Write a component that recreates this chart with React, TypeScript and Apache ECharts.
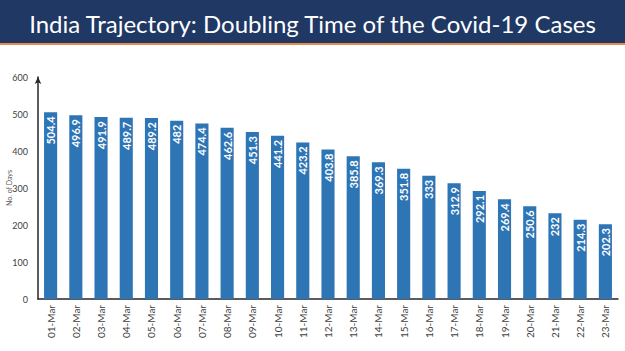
import React, { useEffect, useRef } from "react";
import * as echarts from "echarts";

const categories = [
  "01-Mar", "02-Mar", "03-Mar", "04-Mar", "05-Mar", "06-Mar", "07-Mar", "08-Mar",
  "09-Mar", "10-Mar", "11-Mar", "12-Mar", "13-Mar", "14-Mar", "15-Mar", "16-Mar",
  "17-Mar", "18-Mar", "19-Mar", "20-Mar", "21-Mar", "22-Mar", "23-Mar",
];
const doublingDays = [
  504.4, 496.9, 491.9, 489.7, 489.2, 482, 474.4, 462.6, 451.3, 441.2, 423.2, 403.8,
  385.8, 369.3, 351.8, 333, 312.9, 292.1, 269.4, 250.6, 232, 214.3, 202.3,
];
const titleText = "India Trajectory: Doubling Time of the Covid-19 Cases";
const yAxisName = "No. of Days";

export default function App() {
  const ref = useRef<HTMLDivElement>(null);
  useEffect(() => {
    document.body.style.margin = "0";
    const chart = echarts.init(ref.current!, undefined, { renderer: "svg" });
    chart.setOption({
      animation: false,
      backgroundColor: "#ffffff",
      title: {
        text: titleText,
        left: "center",
        top: 6,
        textStyle: {
          color: "#ffffff",
          fontSize: 24,
          fontWeight: "normal",
          fontFamily: "Lato",
        },
      },
      graphic: [
        {
          type: "rect",
          z: -1,
          shape: { x: 0, y: 0, width: 625, height: 43 },
          style: { fill: "#1f3864" },
        },
        {
          type: "rect",
          z: -1,
          shape: { x: 0, y: 43, width: 625, height: 2 },
          style: { fill: "#e98a4f" },
        },
      ],
      grid: { left: 38, right: 7, top: 77, bottom: 52, outerBoundsMode: "none", containLabel: false },
      xAxis: {
        type: "category",
        data: categories,
        axisLine: { lineStyle: { color: "#262626", width: 1.5 } },
        axisTick: { show: false },
        axisLabel: {
          rotate: 90,
          fontSize: 10,
          color: "#404040",
          fontFamily: "Lato",
          margin: 6,
        },
      },
      yAxis: {
        type: "value",
        min: 0,
        max: 600,
        interval: 100,
        name: yAxisName,
        nameLocation: "middle",
        nameRotate: 90,
        nameGap: 26,
        nameMoveOverlap: false,
        nameTextStyle: { fontSize: 7, color: "#595959", fontFamily: "Lato" },
        axisLine: {
          show: true,
          lineStyle: { color: "#262626", width: 1.5 },
          symbol: ["none", "arrow"],
          symbolSize: [5, 7],
        },
        axisTick: { show: false },
        splitLine: { show: false },
        axisLabel: {
          fontSize: 9,
          color: "#404040",
          fontFamily: "Lato",
          margin: 10,
        },
      },
      series: [
        {
          type: "bar",
          data: doublingDays,
          barWidth: "52%",
          itemStyle: { color: "#2e75b6" },
          label: {
            show: true,
            position: "insideTop",
            rotate: 90,
            align: "right",
            verticalAlign: "middle",
            distance: 4,
            color: "#ffffff",
            fontSize: 11,
            fontWeight: "bold",
            fontFamily: "Lato",
          },
        },
      ],
    });
    return () => chart.dispose();
  }, []);
  return (
    <div
      ref={ref}
      style={{ position: "fixed", left: 0, top: 0, width: 625, height: 351 }}
    />
  );
}
